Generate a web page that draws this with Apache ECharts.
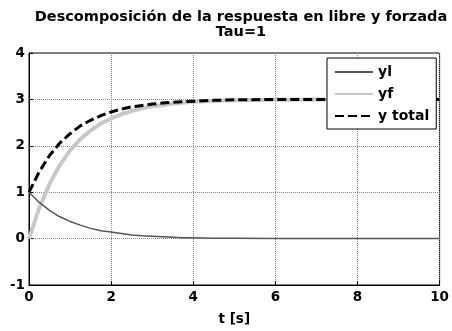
<!DOCTYPE html>
<html><head><meta charset="utf-8">
<script src="https://cdn.jsdelivr.net/npm/echarts@6/dist/echarts.min.js"></script>
<style>html,body{margin:0;padding:0;background:#fff}#c{width:452px;height:331px}</style>
</head><body><div id="c"></div>
<script>
var titleLines = ['Descomposición de la respuesta en libre y forzada', 'Tau=1'];
var xLabel = 't [s]';
var seriesNames = ['yl', 'yf', 'y total'];
var t      = [0, 0.25, 0.5, 0.75, 1, 1.25, 1.5, 1.75, 2, 2.25, 2.5, 2.75, 3, 3.25, 3.5, 3.75, 4, 4.5, 5, 6, 7, 8, 9, 10];
var yl     = [1, 0.78, 0.61, 0.47, 0.37, 0.29, 0.22, 0.17, 0.14, 0.11, 0.08, 0.06, 0.05, 0.04, 0.03, 0.02, 0.02, 0.01, 0.01, 0, 0, 0, 0, 0];
var yf     = [0, 0.66, 1.18, 1.58, 1.90, 2.14, 2.33, 2.48, 2.59, 2.68, 2.75, 2.81, 2.85, 2.88, 2.91, 2.93, 2.95, 2.97, 2.98, 2.99, 3, 3, 3, 3];
var ytotal = [1, 1.44, 1.79, 2.06, 2.26, 2.43, 2.55, 2.65, 2.73, 2.79, 2.84, 2.87, 2.90, 2.92, 2.94, 2.95, 2.96, 2.98, 2.99, 3, 3, 3, 3, 3];

function pairs(ys){ return t.map(function(x,i){ return [x, ys[i]]; }); }
var font = 'DejaVu Sans, Liberation Sans, Arial, sans-serif';
var chart = echarts.init(document.getElementById('c'), null, {renderer:'canvas'});
chart.setOption({
  animation: false,
  backgroundColor: '#fff',
  title: {
    text: titleLines.join('\n'),
    left: 236, textAlign: 'center', top: 5,
    textStyle: {fontFamily: font, fontSize: 14.5, fontWeight: 'bold', color: '#000', lineHeight: 15}
  },
  grid: {left: 29, right: 9, top: 53, bottom: 44, show: true, borderColor: '#000', borderWidth: 1, backgroundColor: '#fff'},
  legend: {
    orient: 'vertical', left: 327, top: 58,
    backgroundColor: '#fff', borderColor: '#000', borderWidth: 1, borderRadius: 0,
    padding: [7, 7, 6, 7], itemWidth: 38, itemHeight: 14, itemGap: 8,
    itemStyle: {opacity: 0},
    textStyle: {fontFamily: font, fontSize: 14, fontWeight: 'bold', color: '#000'},
    data: seriesNames
  },
  xAxis: {
    type: 'value', min: 0, max: 10, interval: 2,
    name: xLabel, nameLocation: 'middle', nameGap: 27,
    nameTextStyle: {fontFamily: font, fontSize: 13.5, fontWeight: 'bold', color: '#000'},
    axisLine: {show: true, onZero: false, lineStyle: {color: '#000', width: 1}},
    axisTick: {show: true, inside: true, length: 4, lineStyle: {color: '#000'}},
    axisLabel: {fontFamily: font, fontSize: 13.5, fontWeight: 'bold', color: '#000', margin: 5},
    splitLine: {show: true, lineStyle: {color: '#888', type: [1, 1], width: 1}}
  },
  yAxis: {
    type: 'value', min: -1, max: 4, interval: 1,
    axisLine: {show: true, onZero: false, lineStyle: {color: '#000', width: 1}},
    axisTick: {show: true, inside: true, length: 4, lineStyle: {color: '#000'}},
    axisLabel: {fontFamily: font, fontSize: 13.5, fontWeight: 'bold', color: '#000', margin: 4},
    splitLine: {show: true, lineStyle: {color: '#888', type: [1, 1], width: 1}}
  },
  series: [
    {name: seriesNames[0], type: 'line', data: pairs(yl), symbol: 'none', z: 4,
     lineStyle: {color: '#555', width: 1.5}, itemStyle: {color: '#555'}},
    {name: seriesNames[1], type: 'line', data: pairs(yf), symbol: 'none', z: 2,
     lineStyle: {color: '#c8c8c8', width: 4}, itemStyle: {color: '#c8c8c8'}},
    {name: seriesNames[2], type: 'line', data: pairs(ytotal), symbol: 'none', z: 3,
     lineStyle: {color: '#000', width: 3, type: [9, 4]}, itemStyle: {color: '#000'}}
  ]
});
</script></body></html>
